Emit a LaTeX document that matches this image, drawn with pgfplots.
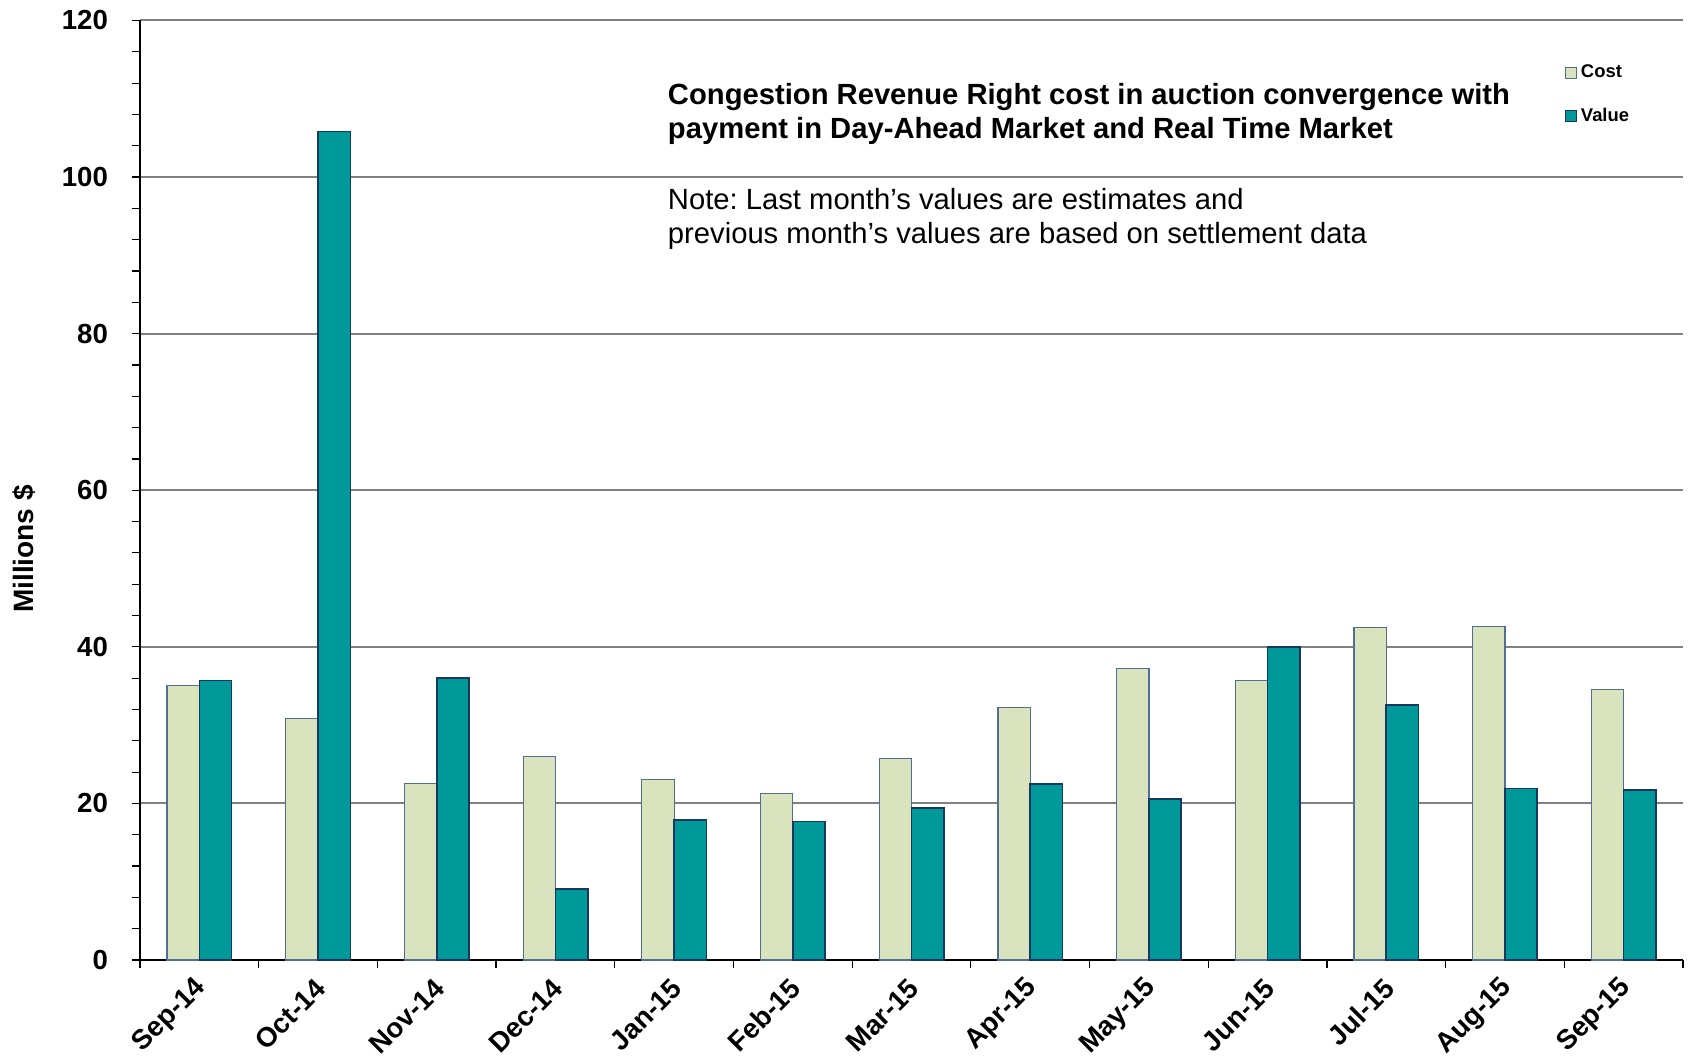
\documentclass[border=0pt]{standalone}
\usepackage{fontspec}
\setmainfont{Liberation Sans}
\usepackage{pgfplots}
\pgfplotsset{compat=1.18}
\frenchspacing
\definecolor{costfill}{RGB}{217,228,191}
\definecolor{valfill}{RGB}{0,153,153}
\definecolor{costedge}{RGB}{80,110,150}
\definecolor{valedge}{RGB}{25,55,95}
\definecolor{gridgray}{RGB}{128,128,128}
\begin{document}
\begin{tikzpicture}
\begin{axis}[
  name=ax, scale only axis, width=771.5pt, height=469.75pt,
  ybar=0pt, bar width=0.272,
  xmin=-0.5, xmax=12.5, ymin=0, ymax=120,
  xtick={0,...,12},
  xticklabels={Sep-14,Oct-14,Nov-14,Dec-14,Jan-15,Feb-15,Mar-15,Apr-15,May-15,Jun-15,Jul-15,Aug-15,Sep-15},
  minor xtick={-0.5,0.5,...,12.5},
  every major x tick/.style={draw=none},
  ytick={0,20,...,120}, minor y tick num=4,
  tick align=outside, major tick length=4pt, minor tick length=4pt,
  tick style={black, line width=0.6pt},
  axis x line*=bottom, axis y line*=left,
  axis line style={black, line width=0.8pt, -},
  ymajorgrids, major grid style={gridgray, line width=1pt},
  /pgf/number format/assume math mode=true,
  yticklabel style={xshift=-8.5pt, font=\fontsize{13.8}{16}\selectfont\bfseries},
  xticklabel style={xshift=3.8pt, yshift=-5.4pt, rotate=45, anchor=east, font=\fontsize{13.8}{16}\selectfont\bfseries},
  ylabel={Millions \$},
  ylabel style={at={(rel axis cs:-0.0754,0.4375)}, anchor=center, font=\fontsize{14}{16}\selectfont\bfseries},
  legend style={at={(axis cs:11.45,115.4)}, anchor=north west, draw=none, fill=none,
    font=\fontsize{9.2}{10}\selectfont\bfseries, row sep=9.5pt, legend cell align=left},
  legend image code/.code={\draw[#1, line width=0.6pt] (0pt,-2.75pt) rectangle (5.5pt,2.75pt);},
]
\addplot[fill=costfill, draw=costedge, line width=0.6pt] coordinates {
 (0,35.05) (1,30.8) (2,22.5) (3,26.0) (4,23.1) (5,21.3) (6,25.7)
 (7,32.3) (8,37.25) (9,35.7) (10,42.5) (11,42.6) (12,34.6)};
\addplot[fill=valfill, draw=valedge, line width=0.8pt] coordinates {
 (0,35.7) (1,105.8) (2,36.0) (3,9.07) (4,17.9) (5,17.7) (6,19.4)
 (7,22.5) (8,20.6) (9,40.0) (10,32.6) (11,21.9) (12,21.7)};
\legend{Cost,Value}
\node[anchor=base west, inner sep=0pt, font=\fontsize{14.6}{17}\selectfont\bfseries] at (axis cs:3.945,109.3) {Congestion Revenue Right cost in auction convergence with};
\node[anchor=base west, inner sep=0pt, font=\fontsize{14.6}{17}\selectfont\bfseries] at (axis cs:3.945,104.9) {payment in Day-Ahead Market and Real Time Market};
\node[anchor=base west, inner sep=0pt, font=\fontsize{14.6}{17}\selectfont] at (axis cs:3.945,95.8) {Note: Last month’s values are estimates and};
\node[anchor=base west, inner sep=0pt, font=\fontsize{14.6}{17}\selectfont] at (axis cs:3.945,91.5) {previous month’s values are based on settlement data};
\end{axis}
\pgfresetboundingbox
\useasboundingbox ([xshift=-70pt,yshift=-49pt]ax.south west) rectangle ([xshift=2.5pt,yshift=10.25pt]ax.north east);
\end{tikzpicture}
\end{document}
